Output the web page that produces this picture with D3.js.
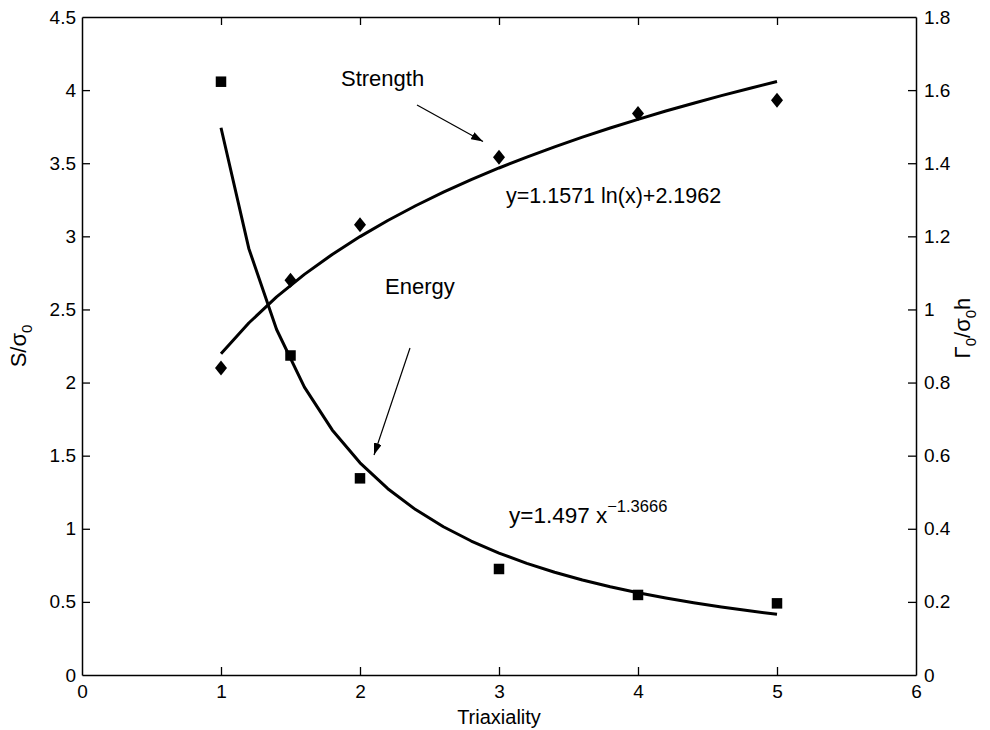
<!DOCTYPE html>
<html>
<head>
<meta charset="utf-8">
<script src="https://cdn.jsdelivr.net/npm/d3@7"></script>
<style>
  html, body { margin: 0; padding: 0; background: #fff; }
  svg { display: block; font-family: "Liberation Sans", Arial, Helvetica, sans-serif; }
</style>
</head>
<body>
<svg id="chart" width="990" height="730"></svg>
<script>
// Measured points: triaxiality vs. normalised strength (left axis) and energy (right axis)
const triaxiality = [1, 1.5, 2, 3, 4, 5];
const strength = [2.10, 2.70, 3.08, 3.54, 3.84, 3.93];
const energy = [1.623, 0.874, 0.538, 0.290, 0.219, 0.196];

// Fitted trend lines, y = a ln(x) + b and y = a x^b, sampled on x = 1..5 (step 0.2)
const strengthFit = { a: 1.1571, b: 2.1962 };
const energyFit = { a: 1.497, b: -1.3666 };
const fitX = d3.range(1, 5.0001, 0.2);

// Tick values
const xTicks = [0, 1, 2, 3, 4, 5, 6];
const leftTicks = [0, 0.5, 1, 1.5, 2, 2.5, 3, 3.5, 4, 4.5];
const rightTicks = [0, 0.2, 0.4, 0.6, 0.8, 1, 1.2, 1.4, 1.6, 1.8];

const svg = d3.select("#chart");
const L = 82, R = 916, T = 17, B = 675;

const x = d3.scaleLinear().domain([0, 6]).range([L, R]);
const yL = d3.scaleLinear().domain([0, 4.5]).range([B, T]);
const yR = d3.scaleLinear().domain([0, 1.8]).range([B, T]);

const tickLen = 8;
const fmt = d => String(d);

// Axes with inward ticks
const axB = svg.append("g").attr("transform", `translate(0,${B})`)
  .call(d3.axisBottom(x).tickValues(xTicks).tickFormat(fmt).tickSizeInner(-tickLen).tickSizeOuter(0).tickPadding(10));
const axT = svg.append("g").attr("transform", `translate(0,${T})`)
  .call(d3.axisTop(x).tickValues(xTicks).tickFormat("").tickSizeInner(-tickLen).tickSizeOuter(0));
const axL = svg.append("g").attr("transform", `translate(${L},0)`)
  .call(d3.axisLeft(yL).tickValues(leftTicks).tickFormat(fmt).tickSizeInner(-tickLen).tickSizeOuter(0).tickPadding(6));
const axR = svg.append("g").attr("transform", `translate(${R},0)`)
  .call(d3.axisRight(yR).tickValues(rightTicks).tickFormat(fmt).tickSizeInner(-tickLen).tickSizeOuter(0).tickPadding(8));

[axB, axT, axL, axR].forEach(g => {
  g.selectAll(".domain").attr("stroke", "#000").attr("stroke-width", 1.5);
  g.selectAll(".tick line").attr("stroke", "#000").attr("stroke-width", 1.3);
  g.selectAll(".tick text").attr("fill", "#000").attr("font-size", 19)
    .attr("font-family", "Liberation Sans, Arial, sans-serif");
});
// Drop the duplicate end ticks along the frame edges
axB.selectAll(".tick").filter(d => d === 0 || d === 6).select("line").remove();
axT.selectAll(".tick").filter(d => d === 0 || d === 6).select("line").remove();
axL.selectAll(".tick").filter(d => d === 0 || d === 4.5).select("line").remove();
axR.selectAll(".tick").filter(d => d === 0 || d === 1.8).select("line").remove();

// Fit curves
const strengthLine = d3.line().x(d => x(d)).y(d => yL(strengthFit.a * Math.log(d) + strengthFit.b));
const energyLine = d3.line().x(d => x(d)).y(d => yR(energyFit.a * Math.pow(d, energyFit.b)));

svg.append("path").datum(fitX).attr("d", strengthLine)
  .attr("fill", "none").attr("stroke", "#000").attr("stroke-width", 3).attr("stroke-linejoin", "round");
svg.append("path").datum(fitX).attr("d", energyLine)
  .attr("fill", "none").attr("stroke", "#000").attr("stroke-width", 3).attr("stroke-linejoin", "round");

// Markers: diamonds for strength, squares for energy
const diamond = "M0,-7.5L6,0L0,7.5L-6,0Z";
svg.append("g").selectAll("path").data(triaxiality).join("path")
  .attr("d", diamond)
  .attr("transform", (d, i) => `translate(${x(d)},${yL(strength[i])})`)
  .attr("fill", "#000");
svg.append("g").selectAll("rect").data(triaxiality).join("rect")
  .attr("x", d => x(d) - 5.25).attr("width", 10.5)
  .attr("y", (d, i) => yR(energy[i]) - 5.25).attr("height", 10.5)
  .attr("fill", "#000");

// Arrowhead
svg.append("defs").append("marker")
  .attr("id", "arrow").attr("viewBox", "0 0 12 8").attr("refX", 12).attr("refY", 4)
  .attr("markerWidth", 12).attr("markerHeight", 8).attr("markerUnits", "userSpaceOnUse")
  .attr("orient", "auto")
  .append("path").attr("d", "M0,0L12,4L0,8Z").attr("fill", "#000");

// Annotations
svg.append("text").attr("x", 341).attr("y", 86).attr("font-size", 22).text("Strength");
svg.append("line").attr("x1", 417).attr("y1", 105).attr("x2", 483).attr("y2", 141.5)
  .attr("stroke", "#000").attr("stroke-width", 1.2).attr("marker-end", "url(#arrow)");

svg.append("text").attr("x", 385).attr("y", 294).attr("font-size", 22).text("Energy");
svg.append("line").attr("x1", 410).attr("y1", 348).attr("x2", 374).attr("y2", 455)
  .attr("stroke", "#000").attr("stroke-width", 1.2).attr("marker-end", "url(#arrow)");

svg.append("text").attr("x", 506).attr("y", 203).attr("font-size", 21.5)
  .text(`y=${strengthFit.a} ln(x)+${strengthFit.b}`);

const eq2 = svg.append("text").attr("x", 509).attr("y", 523).attr("font-size", 22.5);
eq2.append("tspan").text(`y=${energyFit.a} x`);
eq2.append("tspan").attr("dy", -11).attr("font-size", 16.5).text(`\u2212${Math.abs(energyFit.b)}`);

// Axis titles
svg.append("text").attr("x", (L + R) / 2).attr("y", 724).attr("text-anchor", "middle")
  .attr("font-size", 20).text("Triaxiality");

const yt = svg.append("text").attr("transform", `translate(26,346) rotate(-90)`)
  .attr("text-anchor", "middle").attr("font-size", 22);
yt.append("tspan").text("S/\u03C3");
yt.append("tspan").attr("dy", 6).attr("font-size", 15).text("0");

const rt = svg.append("text").attr("transform", `translate(970,328) rotate(-90)`)
  .attr("text-anchor", "middle").attr("font-size", 22);
rt.append("tspan").text("\u0393");
rt.append("tspan").attr("dy", 6).attr("font-size", 15).text("0");
rt.append("tspan").attr("dy", -6).text("/\u03C3");
rt.append("tspan").attr("dy", 6).attr("font-size", 15).text("0");
rt.append("tspan").attr("dy", -6).text("h");
</script>
</body>
</html>
